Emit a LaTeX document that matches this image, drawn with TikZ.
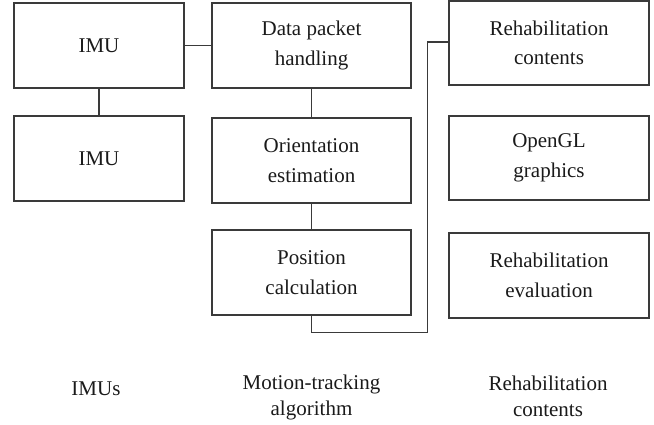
\documentclass[tikz,border=0pt]{standalone}
\usepackage{fontspec}
\setmainfont{Liberation Serif}
\definecolor{linegray}{HTML}{3A3A3A}
\definecolor{textgray}{HTML}{1A1A1A}
\begin{document}
\begin{tikzpicture}[x=1pt,y=-1pt,
  block/.style={draw=linegray, line width=1.2pt, inner sep=0pt,
    minimum width=#1, minimum height=85pt, align=center,
    text=textgray, font=\fontsize{21}{29.5}\selectfont},
  block/.default=200pt,
  wire/.style={draw=linegray, line width=1.2pt},
  caption/.style={inner sep=0pt, align=center, text=textgray,
    font=\fontsize{21}{26}\selectfont}]
\useasboundingbox (0,0) rectangle (654,424);

% IMU column
\node[block=170pt] (imuA) at (99,45.5) {IMU};
\node[block=170pt] (imuB) at (99,158.5) {IMU};

% motion-tracking column
\node[block=199pt] (packet) at (311.5,45.5) {Data packet\\handling};
\node[block=199pt] (orient) at (311.5,160.5) {Orientation\\estimation};
\node[block=199pt] (pos) at (311.5,272.5) {Position\\calculation};

% rehabilitation column
\node[block=200pt, minimum height=84pt] (content) at (549,43) {Rehabilitation\\contents};
\node[block=200pt, minimum height=84pt] (opengl) at (549,158) {OpenGL\\graphics};
\node[block=200pt] (evalbox) at (549,275.5) {Rehabilitation\\evaluation};

% connectors
\draw[wire] (imuA.east) -- (packet.west |- imuA.east);
\draw[wire] (imuA.south) -- (imuB.north);
\draw[wire] (packet.south) -- (orient.north);
\draw[wire] (orient.south) -- (pos.north);
\coordinate (turnA) at (311.5,332.5);
\coordinate (turnB) at (427.5,332.5);
\coordinate (turnC) at (427.5,42);
\draw[wire] (pos.south) -- (turnA) -- (turnB) -- (turnC) -- (content.west |- turnC);

% column captions (base anchor sits on the last line)
\node[caption, anchor=base] (capA) at (96,395) {IMUs};
\node[caption, anchor=base] (capB) at (311.5,415) {Motion-tracking\\algorithm};
\node[caption, anchor=base] (capC) at (548,416) {Rehabilitation\\contents};
\end{tikzpicture}
\end{document}
